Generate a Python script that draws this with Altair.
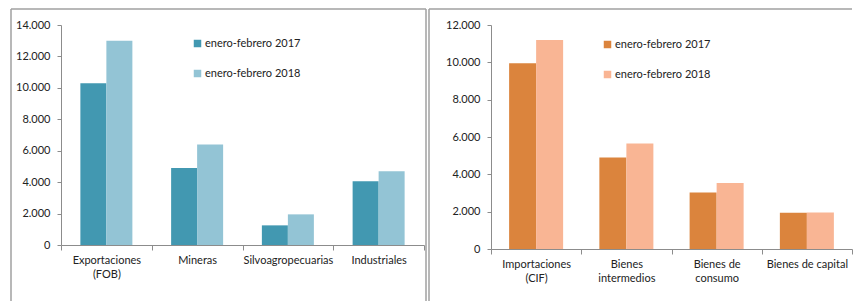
import altair as alt
import pandas as pd

# ---- data ----
exp_cats = ["Exportaciones|(FOB)", "Mineras", "Silvoagropecuarias", "Industriales"]
exp_2017 = [10300, 4900, 1250, 4050]
exp_2018 = [13000, 6400, 1950, 4700]

imp_cats = ["Importaciones|(CIF)", "Bienes|intermedios", "Bienes de|consumo", "Bienes de capital"]
imp_2017 = [9950, 4900, 3030, 1940]
imp_2018 = [11200, 5650, 3530, 1950]

series = ["enero-febrero 2017", "enero-febrero 2018"]
exp_colors = ["#4298B1", "#93C4D5"]
imp_colors = ["#DB843D", "#F9B594"]

FONT = "Lato"


def long_df(cats, v17, v18):
    rows = []
    for c, a, b in zip(cats, v17, v18):
        rows.append({"cat": c, "serie": series[0], "valor": a})
        rows.append({"cat": c, "serie": series[1], "valor": b})
    return pd.DataFrame(rows)


def panel(cats, v17, v18, colors, ymax, width, height, lx, ly, off_pad,
          box_left, box_right, box_top, box_bottom, right_line):
    df = long_df(cats, v17, v18)
    bars = alt.Chart(df).mark_bar().encode(
        x=alt.X("cat:N", sort=cats, title=None,
                scale=alt.Scale(paddingInner=0, paddingOuter=0),
                axis=alt.Axis(labelAngle=0, tickBand="extent", labelExpr="split(datum.label, '|')",
                              labelLineHeight=14, tickSize=5, labelPadding=4,
                              domainColor="#8c8c8c", tickColor="#8c8c8c")),
        xOffset=alt.XOffset("serie:N", sort=series,
                            scale=alt.Scale(paddingInner=0, paddingOuter=off_pad)),
        y=alt.Y("valor:Q", title=None,
                scale=alt.Scale(domain=[0, ymax], nice=False),
                axis=alt.Axis(values=list(range(0, ymax + 1, 2000)), grid=False,
                              labelExpr="replace(format(datum.value, ','), ',', '.')",
                              tickSize=4, labelPadding=7,
                              domainColor="#8c8c8c", tickColor="#8c8c8c")),
        color=alt.Color("serie:N", sort=series,
                        scale=alt.Scale(domain=series, range=colors),
                        legend=alt.Legend(title=None, orient="none", legendX=lx, legendY=ly,
                                          symbolType="square", symbolSize=56, symbolStrokeWidth=0,
                                          labelFont=FONT, labelFontSize=11, labelColor="#222",
                                          rowPadding=18, labelOffset=2, padding=0)),
    )
    one = pd.DataFrame({"k": [0]})
    lines = [
        alt.Chart(one).mark_rule(color="#a0a0a0", strokeWidth=1.5).encode(
            x=alt.value(box_left), y=alt.value(box_top), y2=alt.value(box_bottom)),
        alt.Chart(one).mark_rule(color="#a0a0a0", strokeWidth=1.5).encode(
            x=alt.value(box_left), x2=alt.value(box_right), y=alt.value(box_top)),
    ]
    if right_line:
        lines.append(alt.Chart(one).mark_rule(color="#a0a0a0", strokeWidth=1.5).encode(
            x=alt.value(box_right), y=alt.value(box_top), y2=alt.value(box_bottom)))
    return alt.layer(bars, *lines).properties(width=width, height=height)


left = panel(exp_cats, exp_2017, exp_2018, exp_colors, 14000, 363, 220,
             131, 13, 0.745, -50, 365, -16, 276, True)
right = panel(imp_cats, imp_2017, imp_2018, imp_colors, 12000, 361, 224,
              111, 14, 0.671, -62, 361, -16, 276, False)

chart = alt.hconcat(left, right, spacing=1).resolve_scale(
    color="independent", y="independent", x="independent", xOffset="independent"
).resolve_legend(color="independent").properties(
    padding={"left": 2, "top": 0, "right": 0, "bottom": 0}
).configure_view(stroke=None).configure_axis(
    labelFont=FONT, labelFontSize=11, labelColor="#222"
)

chart.save("out.html", embed_options={"renderer": "svg", "actions": False})
